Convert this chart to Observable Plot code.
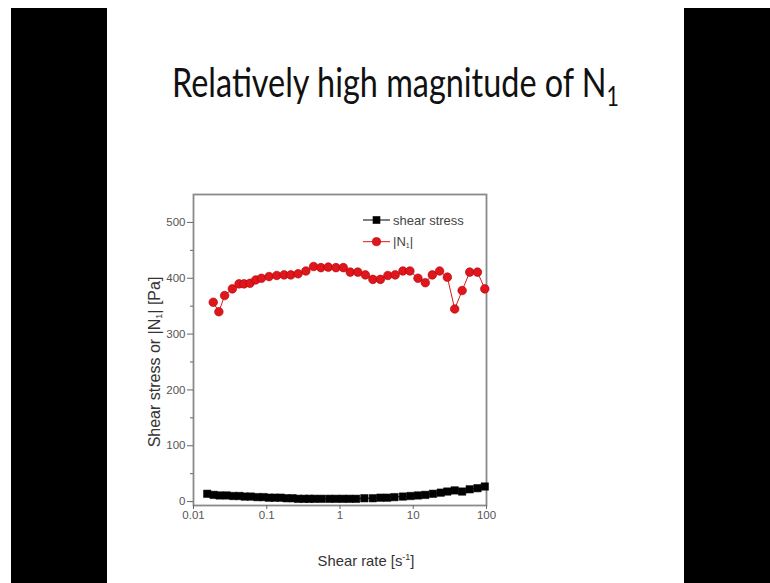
<!DOCTYPE html>
<html>
<head>
<meta charset="utf-8">
<script src="https://cdn.jsdelivr.net/npm/d3@7"></script>
<script src="https://cdn.jsdelivr.net/npm/@observablehq/plot@0.6"></script>
<style>
  html, body { margin: 0; padding: 0; background: #fff; }
  #page { position: relative; width: 770px; height: 583px; overflow: hidden; background: #fff; }
  .bar { position: absolute; background: #000; }
  #title { position: absolute; left: 172px; top: 61px; font-family: "Lato", "Open Sans", sans-serif; font-size: 41px; color: #111; white-space: nowrap; transform-origin: 0 0; line-height: 1; }
  #title sub { font-size: 27px; vertical-align: -9px; }
  #chart { position: absolute; left: 140px; top: 180px; }
  .lab { position: absolute; font-family: "Liberation Sans", Arial, sans-serif; color: #333; white-space: nowrap; }
  .lab sub { font-size: 9px; vertical-align: -2px; }
  .lab sup { font-size: 9px; vertical-align: 6px; }
  #ylab { left: 155px; top: 362px; font-size: 16px; transform: translate(-50%, -50%) rotate(-90deg); }
  #xlab { left: 366px; top: 560px; font-size: 14.8px; transform: translate(-50%, -50%); }
  #legend { position: absolute; left: 355px; top: 208px; }
</style>
</head>
<body>
<div id="page">
  <div class="bar" style="left:11px; top:8px; width:96px; height:575px;"></div>
  <div class="bar" style="left:684px; top:8px; width:86px; height:575px;"></div>
  <div id="title">Relatively high magnitude of N<sub>1</sub></div>
  <div id="chart"></div>
  <div class="lab" id="ylab">Shear stress or |N<sub>1</sub>| [Pa]</div>
  <div class="lab" id="xlab">Shear rate [s<sup>-1</sup>]</div>
  <div id="legend"></div>
</div>
<script>
// ---- data ----
const n1Rate = [0.0186, 0.0222, 0.0266, 0.0339, 0.0418, 0.0489, 0.059, 0.0707, 0.0846, 0.1076,
  0.137, 0.1726, 0.213, 0.268, 0.342, 0.436, 0.549, 0.692, 0.881, 1.11,
  1.38, 1.75, 2.22, 2.81, 3.56, 4.5, 5.67, 7.22, 9.0, 11.6,
  14.6, 18.2, 22.9, 29.2, 36.8, 46.5, 59, 75.3, 94.8];
const n1Value = [357, 340, 369, 381, 390, 390, 391, 397, 400, 403,
  405, 406, 406, 408, 413, 421, 419, 420, 419, 419,
  411, 411, 406, 398, 398, 405, 406, 413, 413, 400,
  392, 406, 413, 402, 345, 378, 411, 411, 381];
const stressRate = [0.0154, 0.0188, 0.0227, 0.0283, 0.035, 0.0423, 0.05, 0.0604, 0.0746, 0.0902,
  0.1076, 0.129, 0.1555, 0.186, 0.225, 0.268, 0.324, 0.38, 0.445, 0.558,
  0.714, 0.881, 1.09, 1.34, 1.66, 2.15, 2.81, 3.56, 4.4, 5.54,
  7.22, 9.19, 11.6, 14.6, 18.6, 23.7, 29.2, 36.8, 46.5, 59,
  75.3, 94.8];
const stressValue = [14, 12, 11, 11, 10, 10, 9, 9, 8, 8,
  7, 7, 7, 6, 6, 5, 5, 5, 5, 5,
  5, 5, 5, 5, 5, 6, 6, 7, 7, 8,
  9, 10, 11, 12, 14, 16, 18, 20, 18, 22,
  24, 27];
const xTicks = [0.01, 0.1, 1, 10, 100];
const yTicks = [0, 100, 200, 300, 400, 500];
const yMinor = [50, 150, 250, 350, 450];
const seriesNames = ["shear stress", "|N1|"];

const n1 = n1Rate.map((x, i) => ({x, y: n1Value[i]}));
const stress = stressRate.map((x, i) => ({x, y: stressValue[i]}));

const tickFont = {fontSize: 11.5, fontFamily: "Liberation Sans, Arial, sans-serif"};
const chart = Plot.plot({
  width: 360,
  height: 400,
  marginLeft: 53,
  marginRight: 14,
  marginTop: 14,
  marginBottom: 75,
  style: {background: "transparent", overflow: "visible"},
  x: {type: "log", domain: [0.01, 100]},
  y: {domain: [-7, 550]},
  marks: [
    Plot.frame({stroke: "#8a8a8a", strokeWidth: 1.8}),
    Plot.axisY({ticks: yTicks, tickSize: 6, tickPadding: 2, stroke: "#666", fill: "#555", label: null, ...tickFont}),
    Plot.axisY({ticks: yMinor, tickSize: 3, text: null, stroke: "#666", label: null}),
    Plot.axisX({ticks: xTicks, tickSize: 4, tickPadding: 1, tickFormat: d => String(d), stroke: "#666", fill: "#555", label: null, ...tickFont}),
    Plot.line(stress, {x: "x", y: "y", stroke: "#000", strokeWidth: 1}),
    Plot.dot(stress, {x: "x", y: "y", symbol: "square", r: 4.2, fill: "#000", stroke: "#000", strokeWidth: 0.5}),
    Plot.line(n1, {x: "x", y: "y", stroke: "#d91a1a", strokeWidth: 1}),
    Plot.dot(n1, {x: "x", y: "y", symbol: "circle", r: 4.3, fill: "#e0161e", stroke: "#b00000", strokeWidth: 0.6})
  ]
});
document.getElementById("chart").appendChild(chart);

// legend
const leg = d3.select("#legend").append("svg").attr("width", 130).attr("height", 45).style("overflow", "visible");
const items = [{name: seriesNames[0], color: "#000", sym: "square", y: 12}, {name: seriesNames[1], color: "#d91a1a", sym: "circle", y: 33.7}];
items.forEach(it => {
  leg.append("line").attr("x1", 8).attr("x2", 35).attr("y1", it.y).attr("y2", it.y).attr("stroke", it.color).attr("stroke-width", 1);
  if (it.sym === "square") leg.append("rect").attr("x", 21.5 - 3.8).attr("y", it.y - 3.8).attr("width", 7.6).attr("height", 7.6).attr("fill", "#000");
  else leg.append("circle").attr("cx", 21.5).attr("cy", it.y).attr("r", 4.1).attr("fill", "#e0161e").attr("stroke", "#b00000").attr("stroke-width", 0.6);
  const t = leg.append("text").attr("x", 38).attr("y", it.y + 4.5).attr("font-family", "Liberation Sans, Arial, sans-serif").attr("font-size", 13).attr("fill", "#444");
  if (it.sym === "square") t.text(it.name);
  else {
    t.append("tspan").text("|N");
    t.append("tspan").attr("font-size", 7).attr("dy", 2).text("1");
    t.append("tspan").attr("dy", -2).text("|");
  }
});

// fit title width
const title = document.getElementById("title");
const w = title.getBoundingClientRect().width;
title.style.transform = `scaleX(${447 / w})`;
</script>
</body>
</html>
